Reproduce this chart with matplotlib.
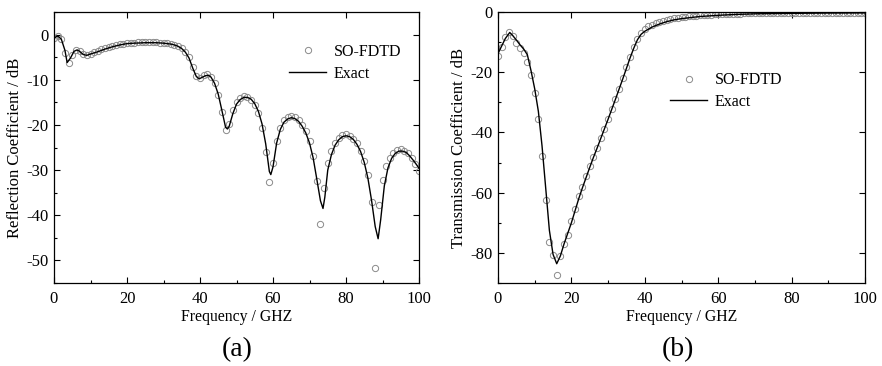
import numpy as np
import matplotlib
matplotlib.use('Agg')
import matplotlib.pyplot as plt
from matplotlib.ticker import MultipleLocator

plt.rcParams['font.family'] = ['Liberation Serif', 'DejaVu Serif']
plt.rcParams['axes.unicode_minus'] = False

# SO-FDTD samples, one per GHz (0..100)
freq_fdtd = np.arange(0, 101)

refl_fdtd = [-0.8, -0.4, -0.9, -4.0, -6.3, -4.5, -3.4, -3.6, -4.3, -4.5,
             -4.2, -3.9, -3.6, -3.3, -3.0, -2.7, -2.5, -2.3, -2.1, -2.0,
             -1.9, -1.8, -1.8, -1.7, -1.7, -1.7, -1.7, -1.7, -1.7, -1.8,
             -1.8, -1.9, -2.0, -2.2, -2.5, -3.0, -3.8, -5.0, -7.2, -9.2,
             -9.6, -9.0, -8.7, -9.3, -10.8, -13.4, -17.2, -21.2, -19.8, -16.8,
             -14.9, -14.1, -13.7, -13.8, -14.4, -15.6, -17.4, -20.6, -26.0, -32.7,
             -28.5, -23.5, -20.6, -19.0, -18.3, -18.1, -18.3, -19.0, -20.0, -21.4,
             -23.6, -26.9, -32.4, -41.9, -33.9, -28.5, -25.7, -23.9, -22.8, -22.2,
             -22.1, -22.4, -23.1, -24.1, -25.7, -28.0, -31.1, -37.0, -51.7, -37.7,
             -32.2, -29.2, -27.3, -26.2, -25.6, -25.4, -25.7, -26.3, -27.3, -28.6,
             -30.3]

trans_fdtd = [-14.5, -11.5, -8.2, -6.5, -8.0, -10.3, -11.8, -13.5, -16.6, -21.0,
              -26.9, -35.7, -47.7, -62.3, -76.3, -80.7, -87.4, -81.0, -77.0, -74.0,
              -69.5, -65.3, -61.2, -58.0, -54.6, -51.2, -48.0, -45.0, -42.0, -38.8,
              -35.6, -32.2, -28.9, -25.5, -22.0, -18.3, -14.8, -11.6, -8.9, -7.0,
              -5.7, -4.8, -4.2, -3.7, -3.3, -2.9, -2.6, -2.3, -2.1, -1.9,
              -1.7, -1.6, -1.4, -1.3, -1.2, -1.1, -1.0, -0.9, -0.85, -0.8,
              -0.75, -0.7, -0.65, -0.6, -0.55, -0.5, -0.5, -0.45, -0.45, -0.4,
              -0.4, -0.4, -0.35, -0.35, -0.35, -0.3, -0.3, -0.3, -0.3, -0.3,
              -0.25, -0.25, -0.25, -0.25, -0.25, -0.25, -0.2, -0.2, -0.2, -0.2,
              -0.2, -0.2, -0.2, -0.2, -0.2, -0.2, -0.2, -0.2, -0.2, -0.2,
              -0.2]

# Exact solution
freq_refl_exact = [0, 1, 2, 3, 3.6, 4.5, 5.5, 6.3, 7, 8, 9, 10, 12, 14, 16, 18, 20,
                   22, 25, 28, 30, 32, 33, 34, 35, 36, 37, 38, 39, 39.8, 40.5, 41.5,
                   42.3, 43, 44, 45, 46, 47, 47.5, 48, 49, 50, 51, 52, 53, 54, 55, 56,
                   57, 58, 59, 59.4, 60, 61, 62, 63, 64, 65, 66, 67, 68, 69, 70, 71,
                   72, 73, 73.7, 74.2, 75, 76, 77, 78, 79, 80, 81, 82, 83, 84, 85, 86,
                   87, 88, 88.8, 89.5, 90.5, 91.5, 92.5, 93.5, 94.5, 95.5, 96.5, 97.5,
                   98.5, 99.5, 100]
refl_exact = [-0.8, -0.3, -1.0, -3.5, -6.2, -5.2, -3.7, -3.4, -3.7, -4.4, -4.6, -4.3,
              -3.8, -3.2, -2.7, -2.3, -2.0, -1.9, -1.8, -1.8, -1.9, -2.1, -2.3, -2.6,
              -3.1, -3.9, -5.2, -7.4, -9.3, -9.8, -9.5, -9.1, -9.0, -9.4, -10.8,
              -13.2, -16.8, -20.5, -20.9, -20.3, -17.5, -15.4, -14.4, -13.9, -13.9,
              -14.3, -15.3, -17.0, -19.8, -24.2, -30.3, -31.0, -29.3, -24.0, -21.0,
              -19.4, -18.7, -18.4, -18.6, -19.2, -20.3, -21.8, -24.0, -27.3, -32.0,
              -36.8, -38.5, -36.0, -30.0, -26.6, -24.5, -23.3, -22.6, -22.4, -22.6,
              -23.2, -24.3, -25.9, -28.3, -31.8, -36.7, -42.5, -45.2, -41.0, -33.5,
              -29.5, -27.4, -26.3, -25.8, -25.8, -26.1, -26.9, -27.9, -29.0, -29.6]

freq_trans_exact = [0, 1, 2, 3.2, 4, 5, 6, 7, 8, 9, 10, 11, 12, 13, 14, 15, 16, 17,
                    18, 19, 20, 21, 22, 23, 24, 25, 26, 27, 28, 29, 30, 31, 32, 33,
                    34, 35, 36, 37, 38, 39, 40, 42, 44, 46, 48, 50, 55, 60, 65, 70,
                    80, 90, 100]
trans_exact = [-13.8, -11.3, -8.8, -6.8, -7.8, -9.3, -10.9, -12.3, -14.2, -19.5,
               -25.5, -33.0, -44.5, -58.5, -72.5, -80.5, -83.6, -81.0, -77.0, -73.5,
               -70.0, -66.0, -62.0, -58.4, -55.0, -51.6, -48.3, -45.2, -42.0, -38.8,
               -35.6, -32.3, -29.0, -25.6, -22.2, -18.7, -15.2, -12.0, -9.2, -7.4,
               -6.4, -5.0, -4.0, -3.2, -2.6, -2.2, -1.5, -1.1, -0.8, -0.6,
               -0.45, -0.35, -0.3]


def style_axes(ax, ymajor, yminor):
    ax.xaxis.set_major_locator(MultipleLocator(20))
    ax.xaxis.set_minor_locator(MultipleLocator(10))
    ax.yaxis.set_major_locator(MultipleLocator(ymajor))
    ax.yaxis.set_minor_locator(MultipleLocator(yminor))
    ax.tick_params(which='both', direction='in', labelsize=12, width=0.8)
    ax.tick_params(which='major', length=4, top=True, right=True)
    ax.tick_params(which='minor', length=2.5)
    ax.tick_params(axis='x', pad=6)
    ax.tick_params(axis='y', pad=4)
    for s in ax.spines.values():
        s.set_linewidth(0.9)
    ax.set_xlabel('Frequency / GHZ', fontsize=11.3, labelpad=1)


fig = plt.figure(figsize=(8.82, 3.66), dpi=100)

# (a) reflection
ax1 = fig.add_axes([54/882, 83/366, 365/882, 271/366])
ax1.plot(freq_fdtd, refl_fdtd, 'o', mfc='none', mec='#8a8a8a', ms=4.5, mew=0.7,
         label='SO-FDTD')
ax1.plot(freq_refl_exact, refl_exact, '-', color='black', lw=1.0, label='Exact')
ax1.set_xlim(0, 100)
ax1.set_ylim(-55, 5)
style_axes(ax1, 10, 5)
ax1.set_ylabel('Reflection Coefficient / dB', fontsize=12, labelpad=2)
ax1.legend(loc='upper left', bbox_to_anchor=(0.605, 0.935), frameon=False,
           fontsize=11.5, handlelength=2.3, handletextpad=0.5, labelspacing=0.35)

# (b) transmission
ax2 = fig.add_axes([498/882, 83/366, 367/882, 271/366])
ax2.plot(freq_fdtd, trans_fdtd, 'o', mfc='none', mec='#8a8a8a', ms=4.5, mew=0.7,
         label='SO-FDTD')
ax2.plot(freq_trans_exact, trans_exact, '-', color='black', lw=1.0, label='Exact')
ax2.set_xlim(0, 100)
ax2.set_ylim(-90, 0)
style_axes(ax2, 20, 10)
ax2.set_ylabel('Transmission Coefficient / dB', fontsize=12, labelpad=2)
ax2.legend(loc='upper left', bbox_to_anchor=(0.43, 0.83), frameon=False,
           fontsize=11.5, handlelength=2.3, handletextpad=0.5, labelspacing=0.35)

fig.text(237/882, 1 - 350/366, '(a)', fontsize=20, ha='center', va='center')
fig.text(678/882, 1 - 350/366, '(b)', fontsize=20, ha='center', va='center')

fig.savefig('out.png', dpi=100)
